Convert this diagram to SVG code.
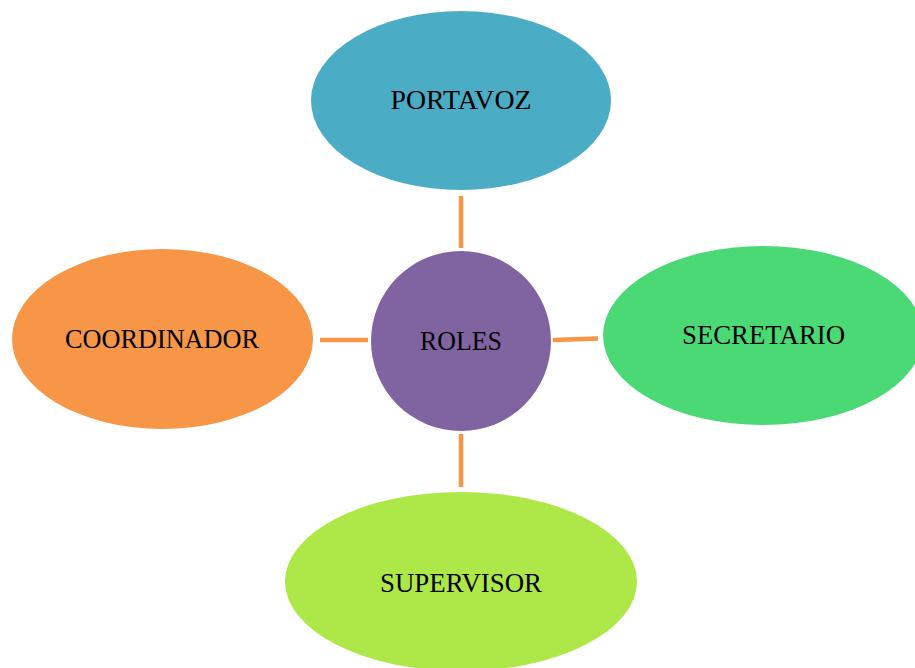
<svg xmlns="http://www.w3.org/2000/svg" width="915" height="668" viewBox="0 0 915 668">
  <style>
    .lbl { font-family: "Liberation Serif", "Times New Roman", serif; font-size: 27.5px; fill: #000; text-anchor: middle; }
    .link { stroke: #F79646; stroke-width: 4.5; fill: none; }
  </style>
  <rect width="915" height="668" fill="#FFFFFF"/>

  <g id="connectors">
    <line class="link" x1="461" y1="196" x2="461" y2="248"/>
    <line class="link" x1="320" y1="340" x2="368" y2="340"/>
    <line class="link" x1="553" y1="340" x2="598" y2="338.5"/>
    <line class="link" x1="461" y1="434" x2="461" y2="487"/>
  </g>

  <g id="node-portavoz">
    <ellipse cx="461" cy="100.5" rx="150" ry="89.5" fill="#4BACC6"/>
    <text class="lbl" x="461" y="109" textLength="141" lengthAdjust="spacingAndGlyphs">PORTAVOZ</text>
  </g>

  <g id="node-coordinador">
    <ellipse cx="162.5" cy="339" rx="150.5" ry="90" fill="#F79646"/>
    <text class="lbl" x="162" y="348" textLength="194" lengthAdjust="spacingAndGlyphs">COORDINADOR</text>
  </g>

  <g id="node-roles">
    <circle cx="461" cy="341" r="90" fill="#8064A2"/>
    <text class="lbl" x="461" y="349.5" textLength="82" lengthAdjust="spacingAndGlyphs">ROLES</text>
  </g>

  <g id="node-secretario">
    <ellipse cx="763" cy="335.5" rx="160" ry="89.5" fill="#4AD975"/>
    <text class="lbl" x="763.5" y="344" textLength="163" lengthAdjust="spacingAndGlyphs">SECRETARIO</text>
  </g>

  <g id="node-supervisor">
    <ellipse cx="461" cy="581.5" rx="176" ry="89.5" fill="#AEE848"/>
    <text class="lbl" x="461" y="592" textLength="162" lengthAdjust="spacingAndGlyphs">SUPERVISOR</text>
  </g>
</svg>
